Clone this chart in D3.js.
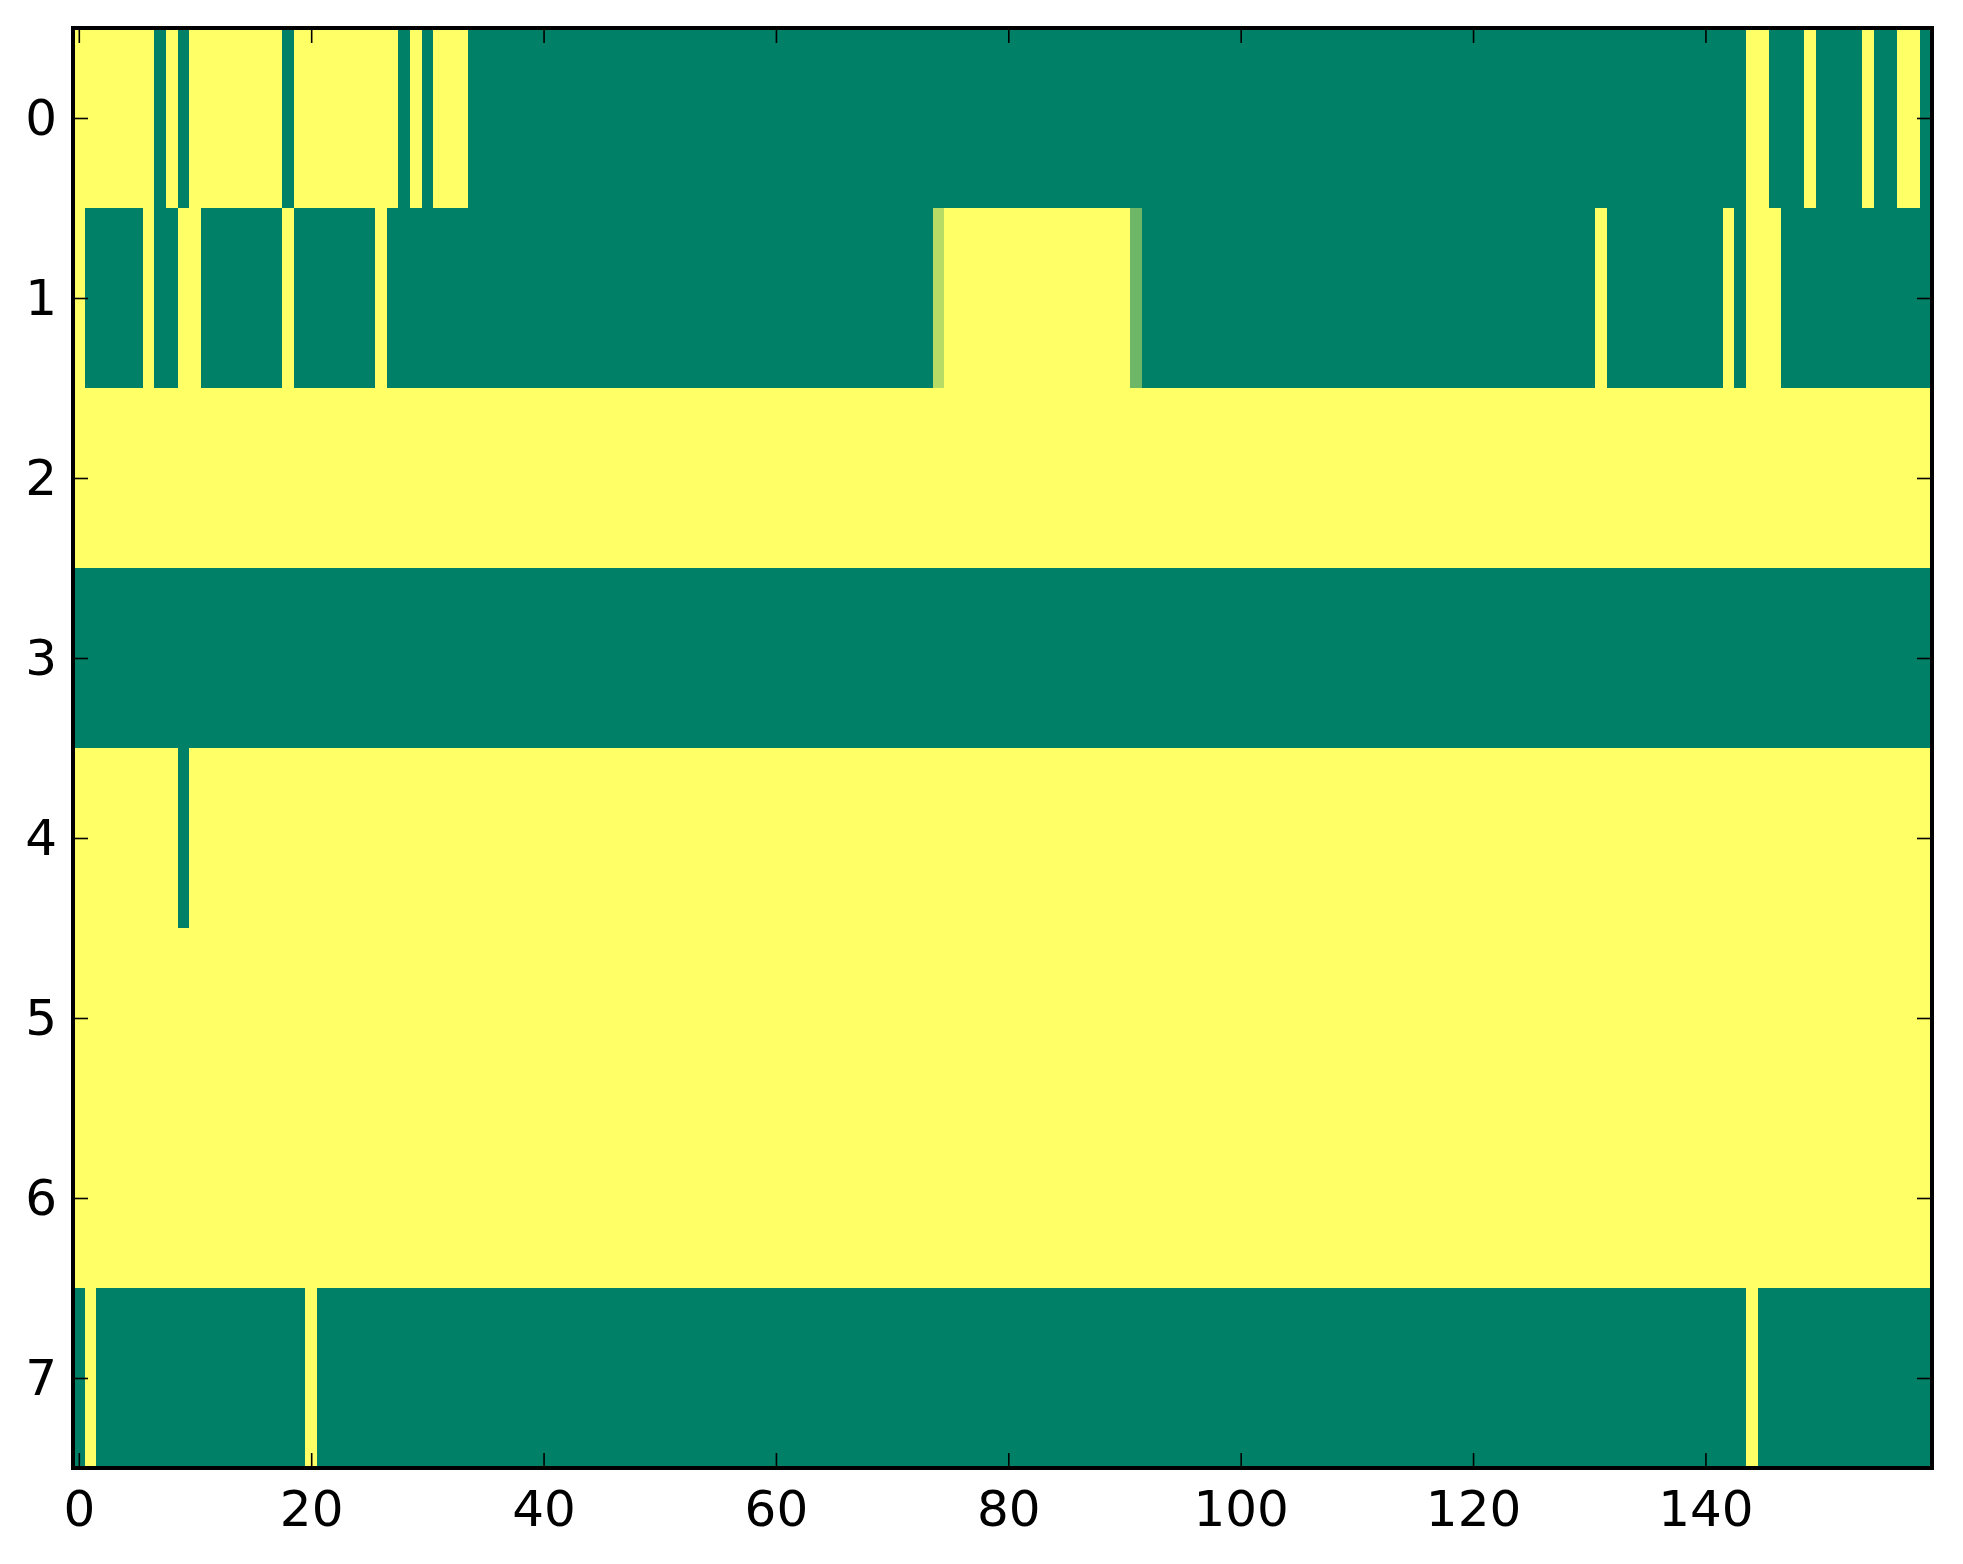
<!DOCTYPE html>
<html>
<head>
<meta charset="utf-8">
<script src="https://cdn.jsdelivr.net/npm/d3@7"></script>
<style>
  body { margin: 0; background: #fff; }
  text { font-family: "DejaVu Sans", sans-serif; }
</style>
</head>
<body>
<svg width="1963" height="1564"></svg>
<script>
// one array per image row, 160 columns each (0 = dark green, 1 = yellow)
var row0 = [
  1,1,1,1,1,1,1,0,1,0, 1,1,1,1,1,1,1,1,0,1,
  1,1,1,1,1,1,1,1,0,1, 0,1,1,1,0,0,0,0,0,0,
  0,0,0,0,0,0,0,0,0,0, 0,0,0,0,0,0,0,0,0,0,
  0,0,0,0,0,0,0,0,0,0, 0,0,0,0,0,0,0,0,0,0,
  0,0,0,0,0,0,0,0,0,0, 0,0,0,0,0,0,0,0,0,0,
  0,0,0,0,0,0,0,0,0,0, 0,0,0,0,0,0,0,0,0,0,
  0,0,0,0,0,0,0,0,0,0, 0,0,0,0,0,0,0,0,0,0,
  0,0,0,0,1,1,0,0,0,1, 0,0,0,0,1,0,0,1,1,0
];
var row1 = [
  1,0,0,0,0,0,1,0,0,1, 1,0,0,0,0,0,0,0,1,0,
  0,0,0,0,0,0,1,0,0,0, 0,0,0,0,0,0,0,0,0,0,
  0,0,0,0,0,0,0,0,0,0, 0,0,0,0,0,0,0,0,0,0,
  0,0,0,0,0,0,0,0,0,0, 0,0,0,0,0.72,1,1,1,1,1,
  1,1,1,1,1,1,1,1,1,1, 1,0.43,0,0,0,0,0,0,0,0,
  0,0,0,0,0,0,0,0,0,0, 0,0,0,0,0,0,0,0,0,0,
  0,0,0,0,0,0,0,0,0,0, 0,1,0,0,0,0,0,0,0,0,
  0,0,1,0,1,1,1,0,0,0, 0,0,0,0,0,0,0,0,0,0
];
var row2 = [
  1,1,1,1,1,1,1,1,1,1, 1,1,1,1,1,1,1,1,1,1,
  1,1,1,1,1,1,1,1,1,1, 1,1,1,1,1,1,1,1,1,1,
  1,1,1,1,1,1,1,1,1,1, 1,1,1,1,1,1,1,1,1,1,
  1,1,1,1,1,1,1,1,1,1, 1,1,1,1,1,1,1,1,1,1,
  1,1,1,1,1,1,1,1,1,1, 1,1,1,1,1,1,1,1,1,1,
  1,1,1,1,1,1,1,1,1,1, 1,1,1,1,1,1,1,1,1,1,
  1,1,1,1,1,1,1,1,1,1, 1,1,1,1,1,1,1,1,1,1,
  1,1,1,1,1,1,1,1,1,1, 1,1,1,1,1,1,1,1,1,1
];
var row3 = [
  0,0,0,0,0,0,0,0,0,0, 0,0,0,0,0,0,0,0,0,0,
  0,0,0,0,0,0,0,0,0,0, 0,0,0,0,0,0,0,0,0,0,
  0,0,0,0,0,0,0,0,0,0, 0,0,0,0,0,0,0,0,0,0,
  0,0,0,0,0,0,0,0,0,0, 0,0,0,0,0,0,0,0,0,0,
  0,0,0,0,0,0,0,0,0,0, 0,0,0,0,0,0,0,0,0,0,
  0,0,0,0,0,0,0,0,0,0, 0,0,0,0,0,0,0,0,0,0,
  0,0,0,0,0,0,0,0,0,0, 0,0,0,0,0,0,0,0,0,0,
  0,0,0,0,0,0,0,0,0,0, 0,0,0,0,0,0,0,0,0,0
];
var row4 = [
  1,1,1,1,1,1,1,1,1,0, 1,1,1,1,1,1,1,1,1,1,
  1,1,1,1,1,1,1,1,1,1, 1,1,1,1,1,1,1,1,1,1,
  1,1,1,1,1,1,1,1,1,1, 1,1,1,1,1,1,1,1,1,1,
  1,1,1,1,1,1,1,1,1,1, 1,1,1,1,1,1,1,1,1,1,
  1,1,1,1,1,1,1,1,1,1, 1,1,1,1,1,1,1,1,1,1,
  1,1,1,1,1,1,1,1,1,1, 1,1,1,1,1,1,1,1,1,1,
  1,1,1,1,1,1,1,1,1,1, 1,1,1,1,1,1,1,1,1,1,
  1,1,1,1,1,1,1,1,1,1, 1,1,1,1,1,1,1,1,1,1
];
var row5 = [
  1,1,1,1,1,1,1,1,1,1, 1,1,1,1,1,1,1,1,1,1,
  1,1,1,1,1,1,1,1,1,1, 1,1,1,1,1,1,1,1,1,1,
  1,1,1,1,1,1,1,1,1,1, 1,1,1,1,1,1,1,1,1,1,
  1,1,1,1,1,1,1,1,1,1, 1,1,1,1,1,1,1,1,1,1,
  1,1,1,1,1,1,1,1,1,1, 1,1,1,1,1,1,1,1,1,1,
  1,1,1,1,1,1,1,1,1,1, 1,1,1,1,1,1,1,1,1,1,
  1,1,1,1,1,1,1,1,1,1, 1,1,1,1,1,1,1,1,1,1,
  1,1,1,1,1,1,1,1,1,1, 1,1,1,1,1,1,1,1,1,1
];
var row6 = [
  1,1,1,1,1,1,1,1,1,1, 1,1,1,1,1,1,1,1,1,1,
  1,1,1,1,1,1,1,1,1,1, 1,1,1,1,1,1,1,1,1,1,
  1,1,1,1,1,1,1,1,1,1, 1,1,1,1,1,1,1,1,1,1,
  1,1,1,1,1,1,1,1,1,1, 1,1,1,1,1,1,1,1,1,1,
  1,1,1,1,1,1,1,1,1,1, 1,1,1,1,1,1,1,1,1,1,
  1,1,1,1,1,1,1,1,1,1, 1,1,1,1,1,1,1,1,1,1,
  1,1,1,1,1,1,1,1,1,1, 1,1,1,1,1,1,1,1,1,1,
  1,1,1,1,1,1,1,1,1,1, 1,1,1,1,1,1,1,1,1,1
];
var row7 = [
  0,1,0,0,0,0,0,0,0,0, 0,0,0,0,0,0,0,0,0,0,
  1,0,0,0,0,0,0,0,0,0, 0,0,0,0,0,0,0,0,0,0,
  0,0,0,0,0,0,0,0,0,0, 0,0,0,0,0,0,0,0,0,0,
  0,0,0,0,0,0,0,0,0,0, 0,0,0,0,0,0,0,0,0,0,
  0,0,0,0,0,0,0,0,0,0, 0,0,0,0,0,0,0,0,0,0,
  0,0,0,0,0,0,0,0,0,0, 0,0,0,0,0,0,0,0,0,0,
  0,0,0,0,0,0,0,0,0,0, 0,0,0,0,0,0,0,0,0,0,
  0,0,0,0,1,0,0,0,0,0, 0,0,0,0,0,0,0,0,0,0
];
var rows = [row0, row1, row2, row3, row4, row5, row6, row7];

var xTicks = [0, 20, 40, 60, 80, 100, 120, 140];
var yTicks = [0, 1, 2, 3, 4, 5, 6, 7];

var svg = d3.select('svg');
var plotLeft = 73;
var plotRight = 1932;
var plotTop = 28;
var plotBottom = 1468;
var tickLen = 15;

var x = d3.scaleLinear().domain([-0.5, 159.5]).range([plotLeft, plotRight]);
var y = d3.scaleLinear().domain([-0.5, 7.5]).range([plotTop, plotBottom]);

// matplotlib "summer" colormap
var color = d3.scaleLinear().domain([0, 1]).range(["#008066", "#ffff66"]);

var cells = [];
rows.forEach(function(r, j) {
    r.forEach(function(v, i) {
        cells.push({ col: i, row: j, value: v });
    });
});

svg.append("g").selectAll("rect")
    .data(cells)
    .enter().append("rect")
    .attr("x", function(d) { return x(d.col - 0.5); })
    .attr("y", function(d) { return y(d.row - 0.5); })
    .attr("width", x(1) - x(0) + 0.6)
    .attr("height", y(1) - y(0) + 0.6)
    .attr("fill", function(d) { return color(d.value); })
    .attr("shape-rendering", "crispEdges");

// axes, ticks pointing inward on all four sides
svg.append("g")
    .attr("transform", "translate(0," + plotBottom + ")")
    .call(d3.axisBottom(x).tickValues(xTicks).tickSizeInner(-tickLen).tickSizeOuter(0).tickPadding(22));
svg.append("g")
    .attr("transform", "translate(0," + plotTop + ")")
    .call(d3.axisTop(x).tickValues(xTicks).tickSizeInner(-tickLen).tickSizeOuter(0).tickFormat(""));
svg.append("g")
    .attr("transform", "translate(" + plotLeft + ",0)")
    .call(d3.axisLeft(y).tickValues(yTicks).tickSizeInner(-tickLen).tickSizeOuter(0).tickPadding(16));
svg.append("g")
    .attr("transform", "translate(" + plotRight + ",0)")
    .call(d3.axisRight(y).tickValues(yTicks).tickSizeInner(-tickLen).tickSizeOuter(0).tickFormat(""));

svg.selectAll(".domain").remove();
svg.selectAll(".tick line").attr("stroke", "#000").attr("stroke-width", 1.6);
svg.selectAll(".tick text")
    .attr("font-family", "DejaVu Sans, sans-serif")
    .attr("font-size", 50)
    .attr("fill", "#000");

svg.append("rect")
    .attr("x", plotLeft)
    .attr("y", plotTop)
    .attr("width", plotRight - plotLeft)
    .attr("height", plotBottom - plotTop)
    .attr("fill", "none")
    .attr("stroke", "#000")
    .attr("stroke-width", 4);
</script>
</body>
</html>
